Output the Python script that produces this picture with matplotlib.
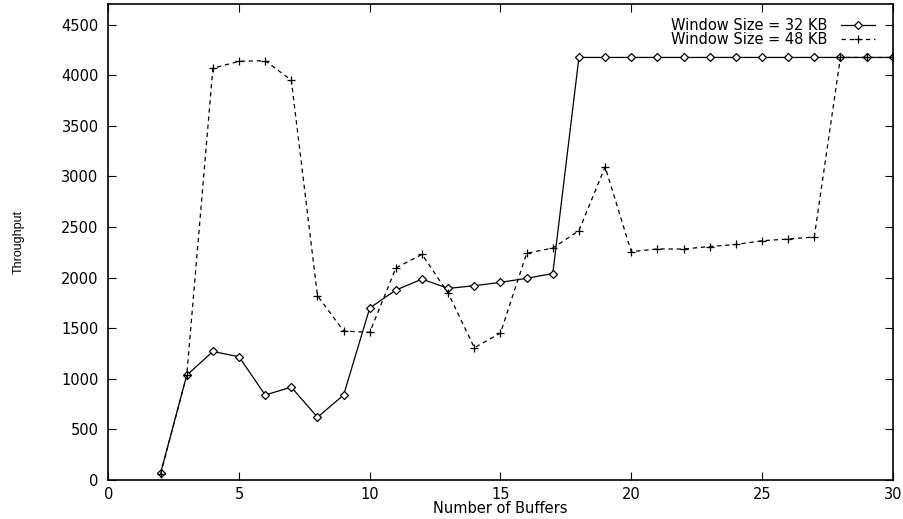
import numpy as np
import matplotlib
matplotlib.use('Agg')
import matplotlib.pyplot as plt

plt.rcParams['font.family'] = ['DejaVu Sans']

# number of buffers
buffers = list(range(2, 31))

# window size 32 KB
tp_32 = [70, 1035, 1270, 1218, 840, 918, 620, 840, 1700, 1877, 1985, 1893,
         1920, 1953, 1993, 2040,
         4175, 4175, 4175, 4175, 4175, 4175, 4175, 4175, 4175, 4175, 4175,
         4175, 4175]

# window size 48 KB
tp_48 = [60, 1035, 4068, 4137, 4143, 3950, 1821, 1472, 1459, 2095, 2230, 1845,
         1307, 1452, 2240, 2292, 2463, 3095, 2256, 2283, 2282, 2307, 2327,
         2364, 2381, 2401, 4175, 4175, 4175]

labels = ['Window Size = 32 KB', 'Window Size = 48 KB']

fig = plt.figure(figsize=(9.04, 5.19), dpi=100)
ax = fig.add_axes([0.1198, 0.0751, 0.8677, 0.9166])

ax.plot(buffers, tp_32, color='black', lw=0.9, ls='-', marker='D',
        ms=4.5, mfc='white', mec='black', mew=0.9, label=labels[0])
ax.plot(buffers, tp_48, color='black', lw=0.9, ls=(0, (3.5, 3)), marker='+',
        ms=6, mec='black', mew=0.9, label=labels[1])

ax.set_xlim(0, 30)
ax.set_ylim(0, 4700)
ax.set_xticks(np.arange(0, 31, 5))
ax.set_yticks(np.arange(0, 4501, 500))
ax.tick_params(direction='in', top=True, right=True, length=6, width=0.8,
               labelsize=10.5)
ax.tick_params(axis='x', pad=5)
ax.tick_params(axis='y', pad=7)
for s in ax.spines.values():
    s.set_linewidth(1.2)

ax.set_xlabel('Number of Buffers', fontsize=10.5, labelpad=-1)
ax.set_ylabel('Throughput', fontsize=9, labelpad=0,
              family=['Liberation Sans', 'DejaVu Sans'])
ax.yaxis.set_label_coords(-0.107, 0.5)

leg = ax.legend(loc='upper right', bbox_to_anchor=(0.9774, 0.9716),
                frameon=False, markerfirst=False, numpoints=1,
                handlelength=2.3, fontsize=10.5, labelspacing=-0.05,
                borderpad=0, borderaxespad=0, handletextpad=0.95)

fig.savefig('out.png', dpi=100)
